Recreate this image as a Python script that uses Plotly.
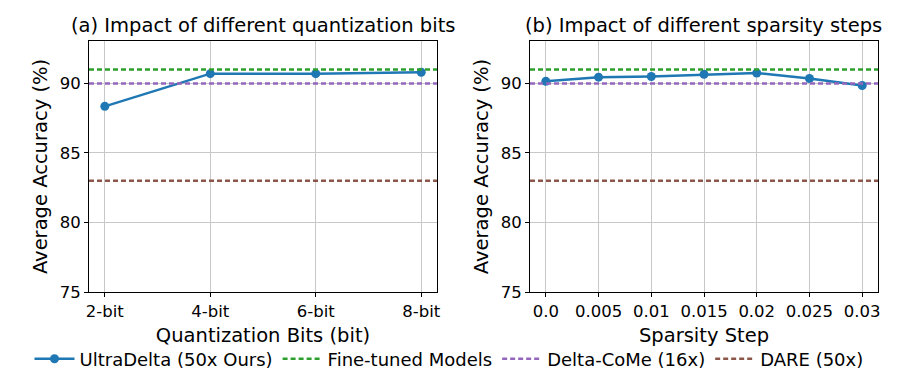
import plotly.graph_objects as go
from plotly.subplots import make_subplots

# left panel: quantization bits
quant_bits = ["2-bit", "4-bit", "6-bit", "8-bit"]
quant_acc = [88.35, 90.7, 90.7, 90.8]

# right panel: sparsity step
sparsity_steps = [0.0, 0.005, 0.01, 0.015, 0.02, 0.025, 0.03]
sparsity_labels = ["0.0", "0.005", "0.01", "0.015", "0.02", "0.025", "0.03"]
sparsity_acc = [90.15, 90.45, 90.5, 90.65, 90.75, 90.35, 89.85]

# reference baselines
finetuned_acc = 91.0
deltacome_acc = 90.0
dare_acc = 83.0

BLUE = "#1f77b4"
GREEN = "#2ca02c"
PURPLE = "#9467bd"
BROWN = "#8c564b"
FONT = "DejaVu Sans"

fig = make_subplots(rows=1, cols=2)

fig.add_trace(go.Scatter(x=list(range(len(quant_bits))), y=quant_acc, mode="lines+markers",
                         name="UltraDelta (50x Ours)", line=dict(color=BLUE, width=2.5),
                         marker=dict(size=9, color=BLUE)), row=1, col=1)
fig.add_trace(go.Scatter(x=sparsity_steps, y=sparsity_acc, mode="lines+markers",
                         showlegend=False, line=dict(color=BLUE, width=2.5),
                         marker=dict(size=9, color=BLUE)), row=1, col=2)

baselines = [("Fine-tuned Models", finetuned_acc, GREEN),
             ("Delta-CoMe (16x)", deltacome_acc, PURPLE),
             ("DARE (50x)", dare_acc, BROWN)]
quant_span = [-0.15, len(quant_bits) - 1 + 0.15]
sparse_span = [-0.0015, 0.0315]
for name, val, col in baselines:
    fig.add_trace(go.Scatter(x=quant_span, y=[val, val], mode="lines", name=name,
                             line=dict(color=col, width=2.5, dash="5px,3px")), row=1, col=1)
    fig.add_trace(go.Scatter(x=sparse_span, y=[val, val], mode="lines", showlegend=False,
                             line=dict(color=col, width=2.5, dash="5px,3px")), row=1, col=2)

axis_common = dict(showline=True, linecolor="black", linewidth=1, mirror=True,
                   ticks="outside", ticklen=4, tickcolor="black", automargin=False,
                   showgrid=True, gridcolor="#c8c8c8", gridwidth=1, zeroline=False,
                   tickfont=dict(size=16.5, color="black", family=FONT))

fig.update_xaxes(axis_common)
fig.update_yaxes(axis_common)

# page body adds an 8px offset, domains below are shifted to compensate
title_font = dict(size=19.5, color="black", family=FONT)
fig.update_xaxes(range=quant_span, tickvals=list(range(len(quant_bits))), ticktext=quant_bits,
                 domain=[0.09, 0.4767],
                 title=dict(text="Quantization Bits (bit)", font=title_font, standoff=8),
                 row=1, col=1)
fig.update_xaxes(range=sparse_span, tickvals=sparsity_steps, ticktext=sparsity_labels,
                 domain=[0.58, 0.9667],
                 title=dict(text="Sparsity Step", font=title_font, standoff=8),
                 row=1, col=2)
for c in (1, 2):
    fig.update_yaxes(range=[75, 93.05], tickvals=[75, 80, 85, 90], domain=[0.2406, 0.9118],
                     title=dict(text="Average Accuracy (%)", font=title_font, standoff=6),
                     row=1, col=c)

fig.add_annotation(text="(a) Impact of different quantization bits", x=0.2833, y=0.9519,
                   xref="paper", yref="paper", showarrow=False, xanchor="center", yanchor="middle",
                   font=title_font)
fig.add_annotation(text="(b) Impact of different sparsity steps", x=0.7733, y=0.9519,
                   xref="paper", yref="paper", showarrow=False, xanchor="center", yanchor="middle",
                   font=title_font)

fig.update_layout(width=900, height=374, margin=dict(l=0, r=0, t=0, b=0),
                  plot_bgcolor="white", paper_bgcolor="white",
                  font=dict(family=FONT, color="black"),
                  legend=dict(orientation="h", x=0.49, xanchor="center", y=0.0615, yanchor="middle",
                              font=dict(size=18, family=FONT, color="black"),
                              itemwidth=40, tracegroupgap=0))

fig.write_html("out.html")
